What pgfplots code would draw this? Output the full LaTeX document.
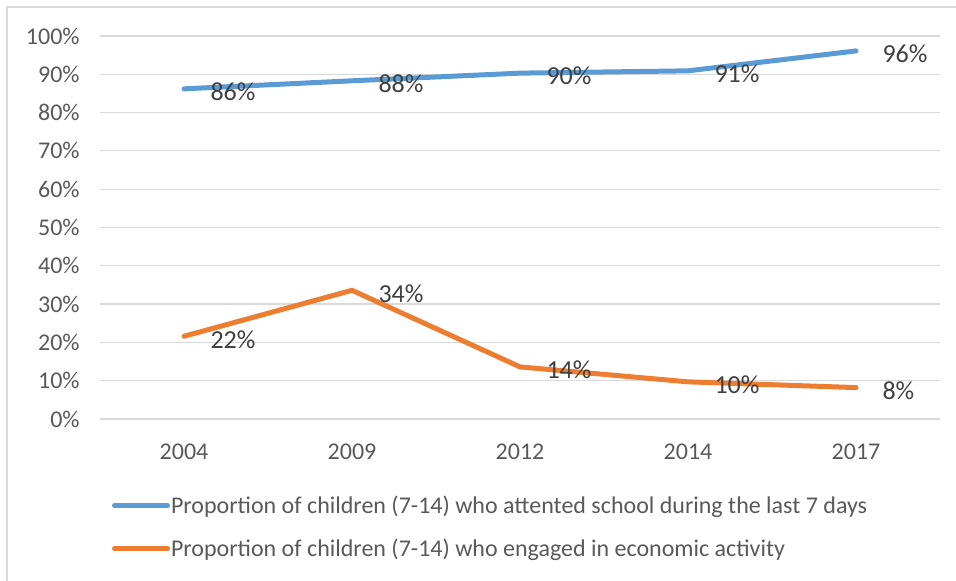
\documentclass[border=0pt]{standalone}
\usepackage{pgfplots}
\pgfplotsset{compat=1.18}
\usepackage{fontspec}
\setmainfont{Carlito}
\definecolor{sblue}{HTML}{5B9BD5}
\definecolor{sorange}{HTML}{ED7D31}
\definecolor{gridc}{HTML}{D9D9D9}
\definecolor{tickc}{HTML}{595959}
\definecolor{labc}{HTML}{404040}
\begin{document}
\begin{tikzpicture}
\useasboundingbox (0,0) rectangle (478pt,290.5pt);
\draw[gridc, line width=1pt] (3.5pt,0) -- (3.5pt,287pt) -- (478pt,287pt);
\begin{axis}[
  at={(50pt,81pt)}, anchor=south west,
  scale only axis, width=420pt, height=191.5pt,
  xmin=-0.5, xmax=4.5, ymin=0, ymax=100,
  xtick={0,1,2,3,4}, xticklabels={2004,2009,2012,2014,2017},
  ytick={0,10,...,100},
  yticklabel={\pgfmathprintnumber{\tick}\%},
  /pgf/number format/assume math mode=true,
  ymajorgrids, grid style={gridc, line width=0.6pt},
  axis line style={draw=none}, tick style={draw=none},
  ticklabel style={font=\fontsize{12}{14}\selectfont, text=tickc},
  xticklabel style={inner sep=0pt, yshift=-12.5pt},
  yticklabel style={inner sep=0pt, xshift=-10pt},
  nodes near coords, point meta=explicit symbolic,
  every node near coord/.append style={anchor=west, inner sep=0pt, xshift=12pt, yshift=-1.5pt, font=\fontsize{13}{15}\selectfont, text=labc},
  legend style={at={(axis description cs:0.0143,-0.2)}, anchor=north west, draw=none, fill=none, inner sep=0pt, outer sep=0pt,
    font=\fontsize{12}{14}\selectfont, text=tickc, row sep=9.5pt, column sep=0.5pt,
    nodes={inner sep=0pt, text height=9pt, text depth=3pt}},
  legend cell align=left,
  legend image code/.code={\draw[#1, line width=2.5pt, line cap=round] (0pt,1pt) -- (26.5pt,1pt);},
]
\addplot[sblue, line width=2.5pt, line cap=round, line join=round] table[meta=lab] {
x y lab
0 86.2 86\%
1 88.3 88\%
2 90.3 90\%
3 90.9 91\%
4 96.1 96\%
};
\addlegendentry{Proportion of children (7-14) who attented school during the last 7 days}
\addplot[sorange, line width=2.5pt, line cap=round, line join=round] table[meta=lab] {
x y lab
0 21.6 22\%
1 33.6 34\%
2 13.6 14\%
3 9.7 10\%
4 8.2 8\%
};
\addlegendentry{Proportion of children (7-14) who engaged in economic activity}
\end{axis}
\end{tikzpicture}
\end{document}
